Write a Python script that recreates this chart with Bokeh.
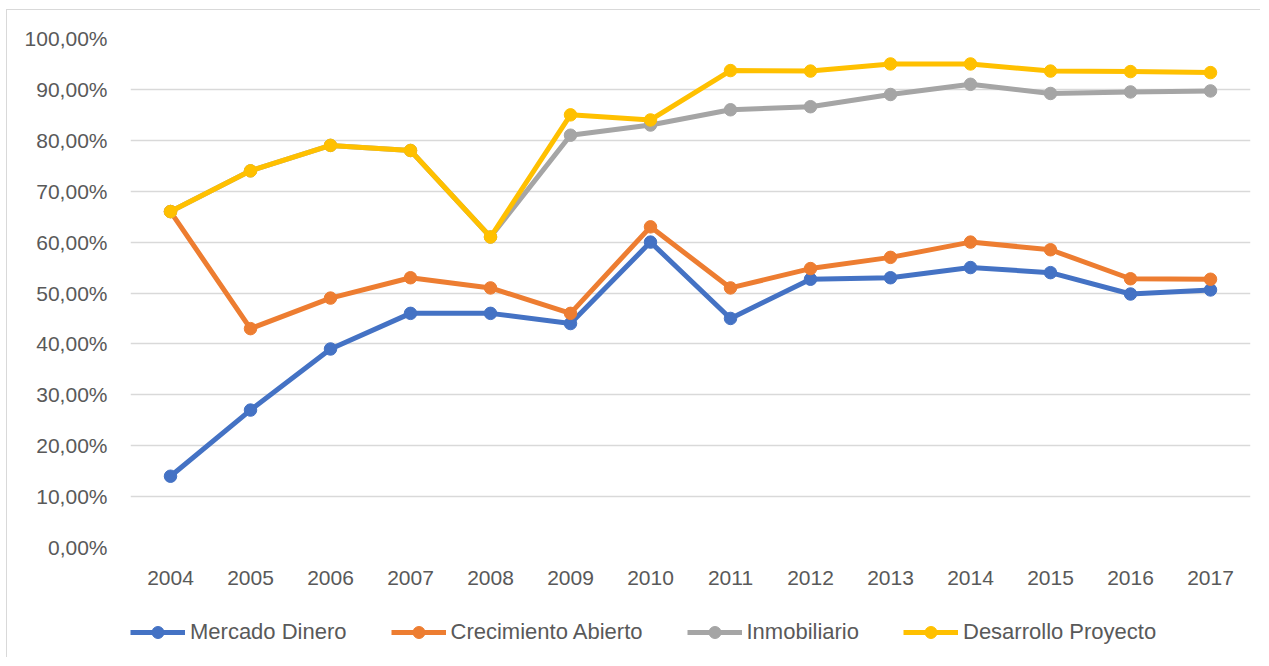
from bokeh.plotting import figure
from bokeh.layouts import column
from bokeh.models import FactorRange, Range1d, FixedTicker, Legend, LegendItem
from bokeh.embed import file_html
from bokeh.resources import INLINE

years = ["2004", "2005", "2006", "2007", "2008", "2009", "2010",
         "2011", "2012", "2013", "2014", "2015", "2016", "2017"]
mercado_dinero = [14.0, 27.0, 39.0, 46.0, 46.0, 44.0, 60.0, 45.0, 52.7, 53.0, 55.0, 54.0, 49.8, 50.6]
crecimiento_abierto = [66.0, 43.0, 49.0, 53.0, 51.0, 46.0, 63.0, 51.0, 54.8, 57.0, 60.0, 58.5, 52.8, 52.7]
inmobiliario = [66.0, 74.0, 79.0, 78.0, 61.0, 81.0, 83.0, 86.0, 86.6, 89.0, 91.0, 89.2, 89.5, 89.7]
desarrollo_proyecto = [66.0, 74.0, 79.0, 78.0, 61.0, 85.0, 84.0, 93.7, 93.6, 95.0, 95.0, 93.6, 93.5, 93.3]
y_ticks = [0, 10, 20, 30, 40, 50, 60, 70, 80, 90, 100]
y_tick_labels = ["0,00%", "10,00%", "20,00%", "30,00%", "40,00%", "50,00%",
                 "60,00%", "70,00%", "80,00%", "90,00%", "100,00%"]

series = [
    ("Mercado Dinero", mercado_dinero, "#4472C4"),
    ("Crecimiento Abierto", crecimiento_abierto, "#ED7D31"),
    ("Inmobiliario", inmobiliario, "#A5A5A5"),
    ("Desarrollo Proyecto", desarrollo_proyecto, "#FFC000"),
]

# main chart
p = figure(frame_width=1120, frame_height=509, x_range=FactorRange(*years, range_padding=0),
           y_range=Range1d(0, 100), output_backend="svg", toolbar_location=None,
           min_border_left=123, min_border_right=10, min_border_top=28, min_border_bottom=60)
p.outline_line_color = None

p.xgrid.grid_line_color = None
p.ygrid.grid_line_color = "#D9D9D9"
p.ygrid.grid_line_width = 1.3

p.yaxis.ticker = FixedTicker(ticks=y_ticks)
p.yaxis.major_label_overrides = {t: l for t, l in zip(y_ticks, y_tick_labels)}
for ax in (p.xaxis[0], p.yaxis[0]):
    ax.axis_line_color = None
    ax.major_tick_line_color = None
    ax.minor_tick_line_color = None
    ax.major_label_text_color = "#595959"
    ax.major_label_text_font = "Liberation Sans"
p.yaxis.major_label_text_font_size = "21px"
p.yaxis.major_label_standoff = 17
p.xaxis.major_label_text_font_size = "21px"
p.xaxis.major_label_standoff = 17

for name, vals, color in series:
    p.line(years, vals, line_color=color, line_width=5)
    p.scatter(years, vals, size=12.5, fill_color=color, line_color=color)

# legend strip (same series, renderers hidden, only their legend glyphs are shown)
lp = figure(width=1253, height=50, x_range=FactorRange(*years, range_padding=0),
            y_range=Range1d(0, 100), output_backend="svg", toolbar_location=None,
            x_axis_location=None, y_axis_location=None, min_border=0)
lp.outline_line_color = None
lp.xgrid.grid_line_color = None
lp.ygrid.grid_line_color = None

items = []
for name, vals, color in series:
    r1 = lp.line(years, vals, line_color=color, line_width=5, visible=False)
    r2 = lp.scatter(years, vals, size=12.5, fill_color=color, line_color=color, visible=False)
    items.append(LegendItem(label=name, renderers=[r1, r2]))

legend = Legend(items=items, orientation="horizontal", location=(0, 10.5),
                glyph_width=55, glyph_height=30, label_standoff=5, spacing=44,
                padding=0, margin=0, border_line_color=None, background_fill_alpha=0,
                inactive_fill_alpha=0,
                label_text_font="Liberation Sans", label_text_font_size="22px",
                label_text_color="#595959")
lp.add_layout(legend, "center")

layout = column(p, lp, spacing=0)
layout.styles = {"margin-left": "6px", "margin-top": "9px",
                 "border-left": "1.5px solid #d9d9d9", "border-top": "1.5px solid #d9d9d9"}

open("out.html", "w").write(file_html(layout, INLINE))
